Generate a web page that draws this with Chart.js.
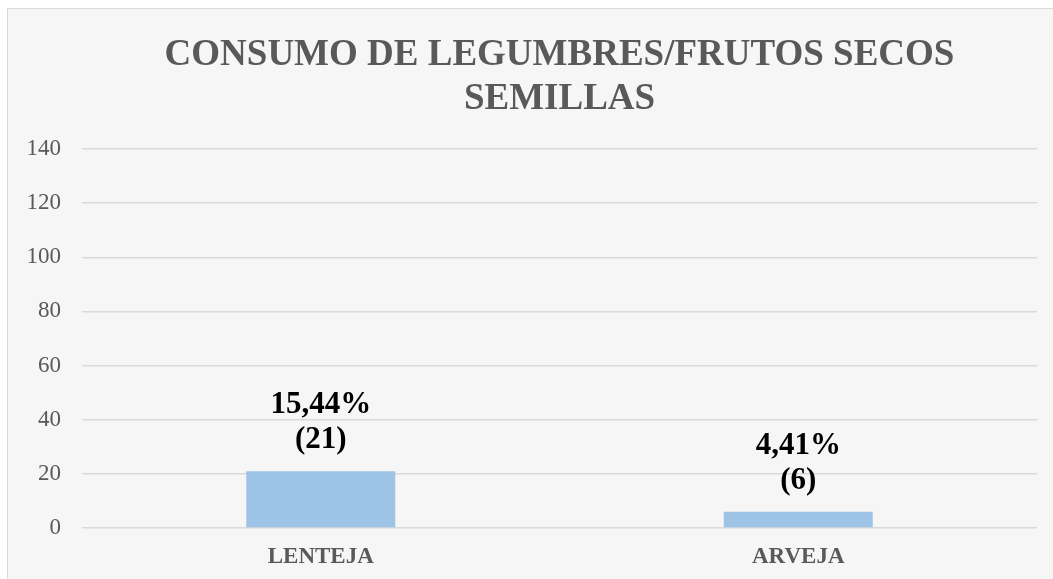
<!DOCTYPE html>
<html>
<head>
<meta charset="utf-8">
<script src="https://cdn.jsdelivr.net/npm/chart.js@4.4.1/dist/chart.umd.min.js"></script>
<style>
  html, body { margin: 0; padding: 0; background: #ffffff; width: 1053px; height: 579px; overflow: hidden; }
  #frame { position: absolute; left: 7px; top: 8px; width: 1100px; height: 620px; border: 1.5px solid #D9D9D9; background: #F6F6F6; }
  #wrap { position: absolute; left: 0; top: 0; width: 1053px; height: 579px; }
</style>
</head>
<body>
<div id="frame"></div>
<div id="wrap"><canvas id="c" width="1053" height="579"></canvas></div>
<script>
const categories = ['LENTEJA', 'ARVEJA'];
const counts = [21, 6];
const percentLabels = ['15,44%', '4,41%'];
const titleLines = ['CONSUMO DE LEGUMBRES/FRUTOS SECOS', 'SEMILLAS'];
const yMin = 0, yMax = 140, yStep = 20;

const SERIF = '"Liberation Serif", "Times New Roman", serif';

const titlePlugin = {
  id: 'centeredTitle',
  afterDraw(chart) {
    const ctx = chart.ctx;
    const area = chart.chartArea;
    const cx = (area.left + area.right) / 2;
    ctx.save();
    ctx.fillStyle = '#595959';
    ctx.font = 'bold 37px ' + SERIF;
    ctx.textAlign = 'center';
    ctx.textBaseline = 'middle';
    titleLines.forEach((line, i) => {
      ctx.fillText(line, cx, 55 + i * 44);
    });
    ctx.restore();
  }
};

const dataLabelPlugin = {
  id: 'dataLabels',
  afterDatasetsDraw(chart) {
    const ctx = chart.ctx;
    const meta = chart.getDatasetMeta(0);
    ctx.save();
    ctx.fillStyle = '#000000';
    ctx.font = 'bold 31px ' + SERIF;
    ctx.textAlign = 'center';
    ctx.textBaseline = 'middle';
    meta.data.forEach((bar, i) => {
      ctx.fillText(percentLabels[i], bar.x, bar.y - 66);
      ctx.fillText('(' + counts[i] + ')', bar.x, bar.y - 31);
    });
    ctx.restore();
  }
};

new Chart(document.getElementById('c'), {
  type: 'bar',
  data: {
    labels: categories,
    datasets: [{
      data: counts,
      backgroundColor: '#9DC3E6',
      borderWidth: 0,
      barPercentage: 0.312,
      categoryPercentage: 1.0
    }]
  },
  options: {
    responsive: false,
    animation: false,
    devicePixelRatio: 1,
    layout: { padding: { left: 0, right: 16, top: 149, bottom: 0 } },
    plugins: {
      legend: { display: false },
      tooltip: { enabled: false },
      title: { display: false }
    },
    scales: {
      x: {
        grid: { display: false, drawTicks: false },
        border: { display: false },
        ticks: {
          color: '#595959',
          font: { family: SERIF, size: 23, weight: 'bold' },
          padding: 15
        },
        afterFit(scale) { scale.height = 51; }
      },
      y: {
        min: yMin,
        max: yMax,
        grid: { color: '#D9D9D9', lineWidth: 1.5, drawTicks: false },
        border: { display: false },
        ticks: {
          stepSize: yStep,
          color: '#595959',
          font: { family: SERIF, size: 23 },
          padding: 21
        },
        afterFit(scale) { scale.width = 82; }
      }
    }
  },
  plugins: [titlePlugin, dataLabelPlugin]
});
</script>
</body>
</html>
